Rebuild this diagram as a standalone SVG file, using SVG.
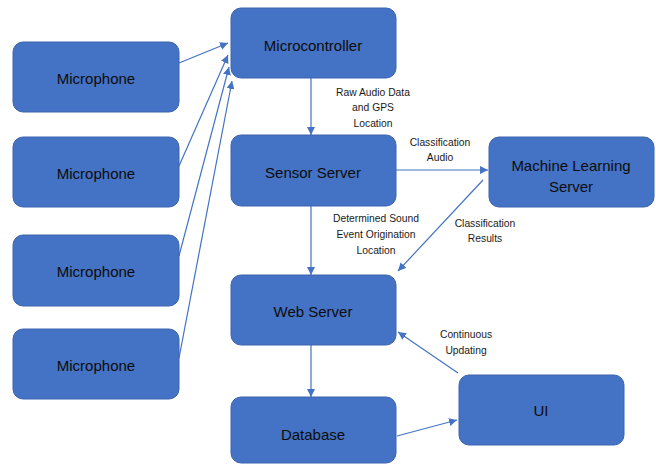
<svg xmlns="http://www.w3.org/2000/svg" width="656" height="465" viewBox="0 0 656 465">
  <defs>
    <marker id="arrow" viewBox="0 0 10 10" refX="10" refY="5" markerWidth="8" markerHeight="8" markerUnits="userSpaceOnUse" orient="auto">
      <path d="M0,0 L10,5 L0,10 Z" fill="#4472C4"/>
    </marker>
    <style>
      .box { fill: #4472C4; stroke: #3B64AD; stroke-width: 1; }
      .label { font-family: "Liberation Sans", Arial, sans-serif; font-size: 15px; fill: #0d0d0d; text-anchor: middle; }
      .note { font-family: "Liberation Sans", Arial, sans-serif; font-size: 10.3px; fill: #1a1a1a; text-anchor: middle; }
      .edge { stroke: #4472C4; stroke-width: 1.2; fill: none; marker-end: url(#arrow); }
    </style>
  </defs>
  <rect width="656" height="465" fill="#ffffff"/>

  <!-- connectors -->
  <g id="connectors">
    <line class="edge" x1="179" y1="63" x2="228" y2="43"/>
    <line class="edge" x1="179" y1="166" x2="228" y2="55"/>
    <line class="edge" x1="179" y1="256" x2="229" y2="67"/>
    <line class="edge" x1="179" y1="358" x2="232" y2="81"/>
    <line class="edge" x1="311" y1="78" x2="311" y2="135"/>
    <line class="edge" x1="396" y1="170" x2="488" y2="170"/>
    <line class="edge" x1="483" y1="180" x2="398" y2="271"/>
    <line class="edge" x1="311" y1="206" x2="311" y2="275"/>
    <line class="edge" x1="458" y1="373" x2="398" y2="332"/>
    <line class="edge" x1="311" y1="345" x2="311" y2="397"/>
    <line class="edge" x1="397" y1="436" x2="457" y2="420"/>

    <text class="note" x="373" y="96">Raw Audio Data</text>
    <text class="note" x="373" y="111">and GPS</text>
    <text class="note" x="373" y="127">Location</text>

    <text class="note" x="440" y="146">Classification</text>
    <text class="note" x="440" y="161">Audio</text>

    <text class="note" x="376" y="222">Determined Sound</text>
    <text class="note" x="376" y="238">Event Origination</text>
    <text class="note" x="376" y="254">Location</text>

    <text class="note" x="485" y="227">Classification</text>
    <text class="note" x="485" y="242">Results</text>

    <text class="note" x="466" y="338">Continuous</text>
    <text class="note" x="466" y="354">Updating</text>
  </g>

  <!-- nodes -->
  <g id="mic1">
    <rect class="box" x="13" y="42" width="166" height="70" rx="10"/>
    <text class="label" x="96" y="84">Microphone</text>
  </g>
  <g id="mic2">
    <rect class="box" x="13" y="137" width="166" height="70" rx="10"/>
    <text class="label" x="96" y="179">Microphone</text>
  </g>
  <g id="mic3">
    <rect class="box" x="13" y="235" width="166" height="71" rx="10"/>
    <text class="label" x="96" y="277">Microphone</text>
  </g>
  <g id="mic4">
    <rect class="box" x="13" y="329" width="166" height="70" rx="10"/>
    <text class="label" x="96" y="371">Microphone</text>
  </g>
  <g id="microcontroller">
    <rect class="box" x="231" y="8" width="165" height="70" rx="10"/>
    <text class="label" x="313" y="51">Microcontroller</text>
  </g>
  <g id="sensor-server">
    <rect class="box" x="231" y="135" width="165" height="71" rx="10"/>
    <text class="label" x="313" y="178">Sensor Server</text>
  </g>
  <g id="ml-server">
    <rect class="box" x="489" y="137" width="165" height="70" rx="10"/>
    <text class="label" x="571" y="171">Machine Learning</text>
    <text class="label" x="571" y="192">Server</text>
  </g>
  <g id="web-server">
    <rect class="box" x="231" y="275" width="165" height="70" rx="10"/>
    <text class="label" x="313" y="317">Web Server</text>
  </g>
  <g id="database">
    <rect class="box" x="231" y="397" width="165" height="66" rx="10"/>
    <text class="label" x="313" y="440">Database</text>
  </g>
  <g id="ui">
    <rect class="box" x="459" y="375" width="165" height="70" rx="10"/>
    <text class="label" x="541" y="416">UI</text>
  </g>
</svg>
